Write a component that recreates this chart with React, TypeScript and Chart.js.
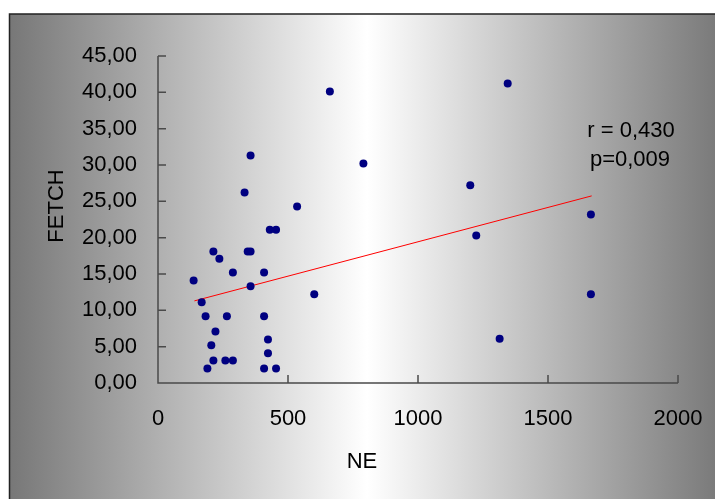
import React, { useEffect, useRef } from 'react';
import { Chart, registerables } from 'chart.js';

Chart.register(...registerables);

// Data
const neValues = [661, 790, 356, 333, 535, 430, 454, 213, 236, 345, 356, 288, 408, 137, 356, 601, 168, 183, 265, 408, 221, 205, 423, 423, 213, 259, 288, 190, 408, 454, 1345, 1201, 1665, 1224, 1665, 1314];
const fetchValues = [40.1, 30.2, 31.3, 26.2, 24.3, 21.1, 21.1, 18.1, 17.1, 18.1, 18.1, 15.2, 15.2, 14.1, 13.3, 12.2, 11.1, 9.2, 9.2, 9.2, 7.1, 5.2, 6.0, 4.1, 3.1, 3.1, 3.1, 2.0, 2.0, 2.0, 41.2, 27.2, 23.2, 20.3, 12.2, 6.1];
const trendNE = [140, 1668];
const trendFETCH = [11.3, 25.75];
const xRange = [0, 2000];
const xStep = 500;
const yRange = [0, 45];
const yStep = 5;
const xTitle = 'NE';
const yTitle = 'FETCH';
const statLines = ['r = 0,430', 'p=0,009'];

const FONT = '"Liberation Sans", Arial, sans-serif';

const decorPlugin = {
  id: 'decor',
  beforeDraw(chart: any) {
    const { ctx, width, height } = chart;
    ctx.save();
    const g = ctx.createLinearGradient(9, 0, 725, 0);
    g.addColorStop(0, '#777777');
    g.addColorStop(0.5, '#ffffff');
    g.addColorStop(1, '#777777');
    ctx.fillStyle = g;
    ctx.fillRect(9, 14, width - 9, height - 14);
    ctx.strokeStyle = '#222';
    ctx.lineWidth = 1.5;
    ctx.beginPath();
    ctx.moveTo(9.5, height + 5);
    ctx.lineTo(9.5, 14);
    ctx.lineTo(width + 5, 14);
    ctx.stroke();
    ctx.restore();
  },
  beforeDatasetsDraw(chart: any) {
    const { ctx, chartArea, scales } = chart;
    const xs = scales.x;
    const ys = scales.y;
    ctx.save();
    ctx.strokeStyle = '#4a4a4a';
    ctx.lineWidth = 1.5;
    ctx.beginPath();
    ctx.moveTo(chartArea.left, chartArea.top);
    ctx.lineTo(chartArea.left, chartArea.bottom);
    ctx.lineTo(chartArea.right, chartArea.bottom);
    xs.ticks.forEach((t: any) => {
      const px = xs.getPixelForValue(t.value);
      ctx.moveTo(px, chartArea.bottom);
      ctx.lineTo(px, chartArea.bottom - 8);
    });
    ys.ticks.forEach((t: any) => {
      const py = ys.getPixelForValue(t.value);
      ctx.moveTo(chartArea.left, py);
      ctx.lineTo(chartArea.left + 8, py);
    });
    ctx.stroke();
    ctx.restore();
  },
  afterDraw(chart: any) {
    const { ctx } = chart;
    ctx.save();
    ctx.fillStyle = '#000';
    ctx.font = `22px ${FONT}`;
    ctx.textAlign = 'center';
    ctx.textBaseline = 'middle';
    ctx.fillText(xTitle, 362, 462);
    ctx.fillText(statLines[0], 631, 131);
    ctx.fillText(statLines[1], 630, 160);
    ctx.translate(57, 206);
    ctx.rotate(-Math.PI / 2);
    ctx.fillText(yTitle, 0, 0);
    ctx.restore();
  },
};

export default function App() {
  const ref = useRef<HTMLCanvasElement | null>(null);
  useEffect(() => {
    if (!ref.current) return;
    const points = neValues.map((x, i) => ({ x, y: fetchValues[i] }));
    const trend = trendNE.map((x, i) => ({ x, y: trendFETCH[i] }));
    const chart = new Chart(ref.current, {
      type: 'scatter',
      data: {
        datasets: [
          {
            label: 'FETCH',
            data: points,
            backgroundColor: '#000080',
            borderColor: '#000080',
            pointRadius: 4,
            pointBorderWidth: 0,
          },
          {
            label: 'trend',
            data: trend,
            showLine: true,
            borderColor: '#ff0000',
            borderWidth: 1,
            pointRadius: 0,
          } as any,
        ],
      },
      options: {
        responsive: false,
        animation: false,
        events: [],
        layout: { padding: { top: 56, right: 37, bottom: 0, left: 0 } },
        plugins: { legend: { display: false }, tooltip: { enabled: false } },
        scales: {
          x: {
            type: 'linear',
            min: xRange[0],
            max: xRange[1],
            grid: { display: false, drawTicks: false },
            border: { display: false },
            ticks: {
              stepSize: xStep,
              color: '#000',
              padding: 23,
              font: { family: FONT, size: 22 },
              callback: (v: any) => String(v),
            },
            afterFit: (s: any) => {
              s.height = 116;
              s.paddingLeft = 0;
              s.paddingRight = 0;
            },
          },
          y: {
            type: 'linear',
            min: yRange[0],
            max: yRange[1],
            grid: { display: false, drawTicks: false },
            border: { display: false },
            ticks: {
              stepSize: yStep,
              color: '#000',
              padding: 21,
              font: { family: FONT, size: 22 },
              callback: (v: any) => Number(v).toFixed(2).replace('.', ','),
            },
            afterFit: (s: any) => { s.width = 158; },
          },
        },
      },
      plugins: [decorPlugin],
    });
    return () => chart.destroy();
  }, []);
  return (
    <div style={{ position: 'absolute', left: 0, top: 0, width: 715, height: 499 }}>
      <canvas ref={ref} width={715} height={499} style={{ display: 'block' }} />
    </div>
  );
}
